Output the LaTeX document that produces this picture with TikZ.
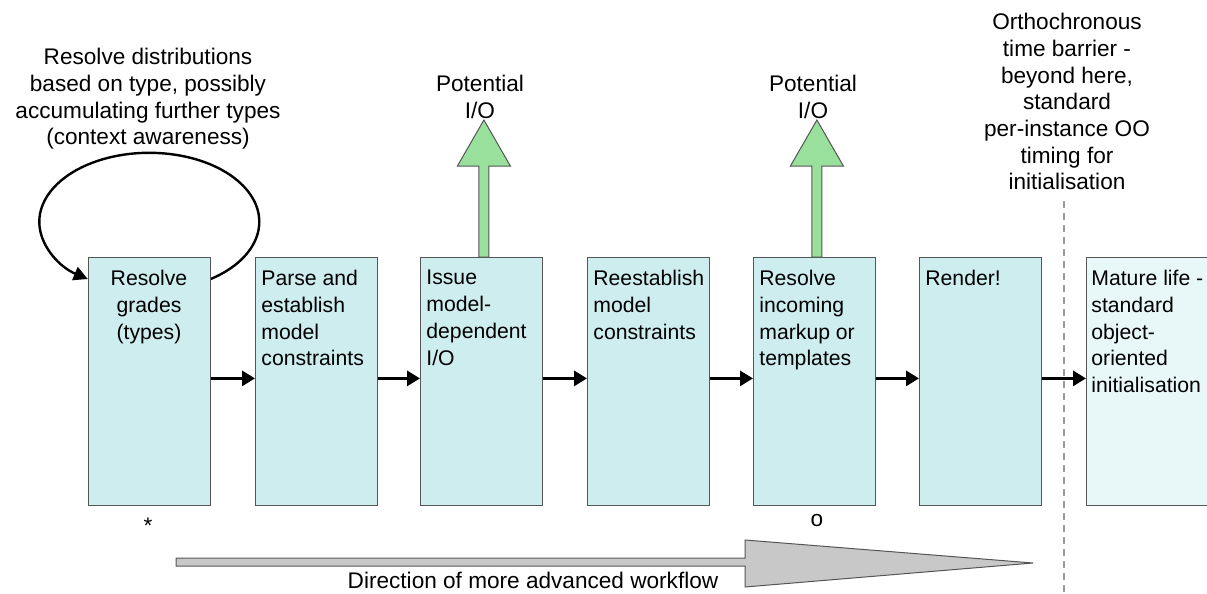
\documentclass[tikz,border=0pt]{standalone}
\usepackage{fontspec}
\setmainfont{Liberation Sans}
\usetikzlibrary{arrows.meta}
\pgfdeclarelayer{nodelayer}
\pgfdeclarelayer{edgelayer}
\pgfsetlayers{edgelayer,nodelayer,main}
\definecolor{stagefill}{HTML}{CDEDEF}
\definecolor{latefill}{HTML}{E8F7F8}
\definecolor{boxline}{HTML}{555555}
\definecolor{iogreen}{HTML}{98E09C}
\definecolor{flowgray}{HTML}{C8C8C8}
\definecolor{barriergray}{HTML}{9A9A9A}
\newcommand{\stagefont}{\fontsize{10.6pt}{13.35pt}\selectfont}
\newcommand{\notefont}{\fontsize{11.3pt}{13.35pt}\selectfont}
\tikzstyle{stage}=[fill=stagefill, draw=boxline, shape=rectangle, minimum width=61pt, minimum height=124pt, inner sep=0pt, anchor=north west]
\tikzstyle{late stage}=[stage, fill=latefill]
\tikzstyle{stage text}=[anchor=north west, align=left, inner sep=0pt, font=\stagefont]
\tikzstyle{note}=[anchor=north, align=center, inner sep=0pt, font=\notefont]
\tikzstyle{footnote sign}=[anchor=base, inner sep=0pt, font=\notefont]
\tikzstyle{flow edge}=[draw=black, line width=1.5pt, -{Triangle[length=6.5pt,width=7.5pt]}]
\tikzstyle{loop edge}=[draw=black, line width=1.2pt, -{Triangle[length=7pt,width=7pt]}]
\tikzstyle{io arrow}=[fill=iogreen, draw=boxline, line width=0.5pt]
\tikzstyle{workflow}=[fill=flowgray, draw=boxline, line width=0.5pt]
\tikzstyle{barrier}=[draw=barriergray, line width=1.2pt, dash pattern=on 3.5pt off 2.5pt]

\begin{document}
\begin{tikzpicture}[x=0.5pt, y=-0.5pt]
	\useasboundingbox (0,0) rectangle (1207,594);
	\begin{pgfonlayer}{nodelayer}
		\node [style=stage] (0) at (88, 257) {};
		\node [style=stage] (1) at (255, 257) {};
		\node [style=stage] (2) at (420, 257) {};
		\node [style=stage] (3) at (587, 257) {};
		\node [style=stage] (4) at (753, 257) {};
		\node [style=stage] (5) at (919, 257) {};
		\node [style=late stage] (6) at (1086, 257) {};
		\node [style=note, font=\stagefont] (7) at (149, 270) {Resolve\\grades\\(types)};
		\node [style=stage text] (8) at ([shift={(6,13)}]1.north west) {Parse and\\establish\\model\\constraints};
		\node [style=stage text] (9) at ([shift={(6,13)}]2.north west) {Issue\\model-\\dependent\\I/O};
		\node [style=stage text] (10) at ([shift={(6,13)}]3.north west) {Reestablish\\model\\constraints};
		\node [style=stage text] (11) at ([shift={(6,13)}]4.north west) {Resolve\\incoming\\markup or\\templates};
		\node [style=stage text] (12) at ([shift={(6,13)}]5.north west) {Render!};
		\node [style=stage text] (13) at ([shift={(5,13)}]6.north west) {Mature life -\\standard\\object-\\oriented\\initialisation};
		\node [style=note] (14) at (148, 48) {Resolve distributions\\based on type, possibly\\accumulating further types\\(context awareness)};
		\node [style=note] (15) at (480, 75) {Potential\\I/O};
		\node [style=note] (16) at (813, 75) {Potential\\I/O};
		\node [style=note] (17) at (1067, 13) {Orthochronous\\time barrier -\\beyond here,\\standard\\per-instance OO\\timing for\\initialisation};
		\node [style=footnote sign] (18) at (148, 533) {*};
		\node [style=footnote sign] (19) at (817, 526) {o};
		\node [style=note] (20) at (533, 572) {Direction of more advanced workflow};
		\coordinate (21) at (1064, 201);
		\coordinate (22) at (1064, 594);
	\end{pgfonlayer}
	\begin{pgfonlayer}{edgelayer}
		\draw [style=flow edge] ([yshift=1.5pt]0.east) to ([yshift=1.5pt]1.west);
		\draw [style=flow edge] ([yshift=1.5pt]1.east) to ([yshift=1.5pt]2.west);
		\draw [style=flow edge] ([yshift=1.5pt]2.east) to ([yshift=1.5pt]3.west);
		\draw [style=flow edge] ([yshift=1.5pt]3.east) to ([yshift=1.5pt]4.west);
		\draw [style=flow edge] ([yshift=1.5pt]4.east) to ([yshift=1.5pt]5.west);
		\draw [style=flow edge] ([yshift=1.5pt]5.east) to ([yshift=1.5pt]6.west);
		\draw [style=loop edge] ([shift={(0,22)}]0.north east) arc [start angle=56, end angle=-236, x radius=110, y radius=69];
	\end{pgfonlayer}
	\draw [style=barrier] (21) -- (22);
	\draw [style=io arrow] ([shift={(-2.5,0)}]2.north) -- ++(0,-91) -- ++(-21.5,0) -- ++(26.5,-46) -- ++(26.5,46) -- ++(-21.5,0) -- ++(0,91) -- cycle;
	\draw [style=io arrow] ([shift={(-2.5,0)}]4.north) -- ++(0,-91) -- ++(-21.5,0) -- ++(26.5,-46) -- ++(26.5,46) -- ++(-21.5,0) -- ++(0,91) -- cycle;
	\draw [style=workflow] (176, 558) -- (745, 558) -- (745, 540) -- (1033, 563) -- (745, 587) -- (745, 566) -- (176, 566) -- cycle;
\end{tikzpicture}
\end{document}
